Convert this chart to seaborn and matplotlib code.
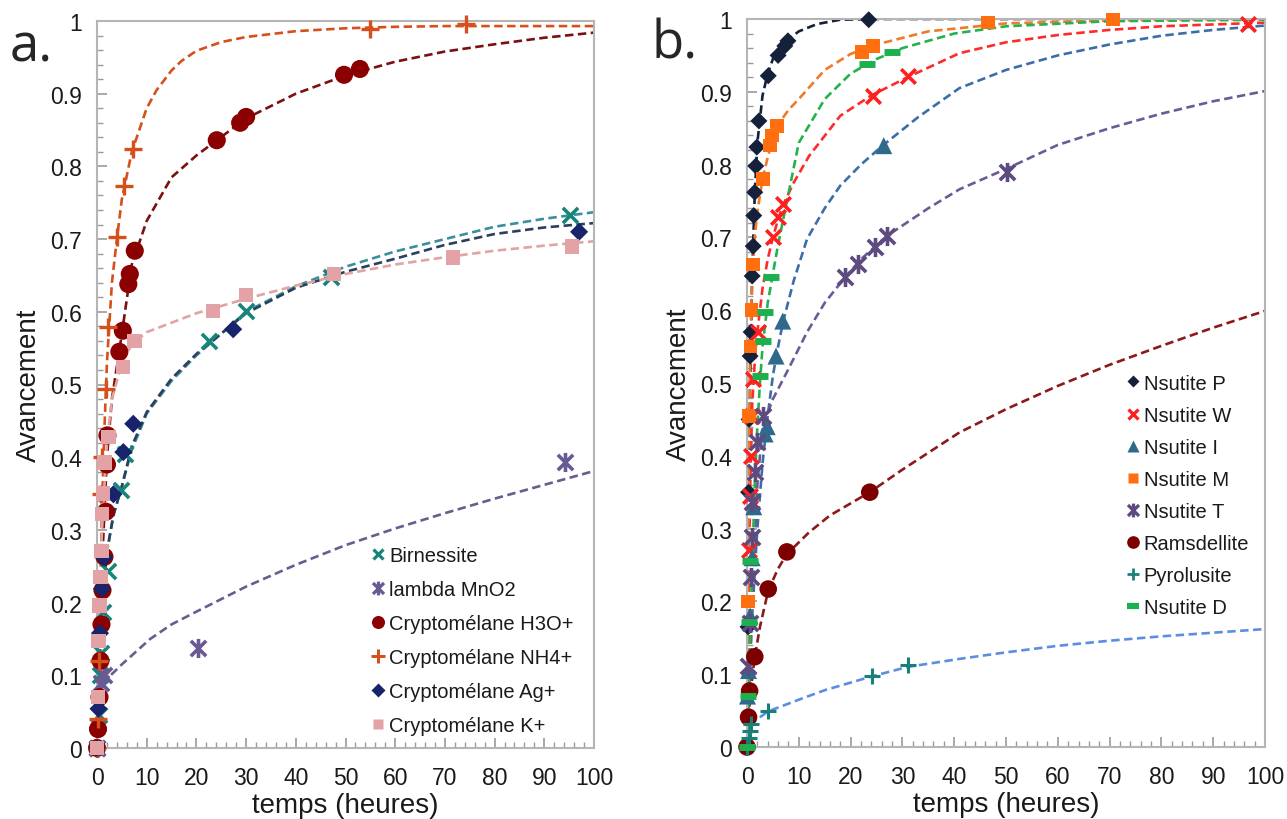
import numpy as np
import pandas as pd
import matplotlib
matplotlib.use("Agg")
import matplotlib.pyplot as plt
import seaborn as sns
from matplotlib.path import Path
from matplotlib.lines import Line2D
from matplotlib.ticker import MultipleLocator, FuncFormatter

sns.set_style("white")
plt.rcParams['font.family'] = ['Liberation Sans', 'DejaVu Sans']

# ---------------- Panel a : measured points ----------------
birn_t = [0, 0.4, 0.6, 0.8, 1.2, 2.3, 4.8, 5.6, 22.5, 30, 47, 95.2]
birn_v = [0, 0.045, 0.10, 0.13, 0.187, 0.243, 0.355, 0.404, 0.56, 0.601, 0.648, 0.733]
lam_t = [0, 0.8, 1.4, 20.4, 94.2]
lam_v = [0, 0.09, 0.10, 0.137, 0.394]
h3o_t = [0, 0.2, 0.5, 0.7, 0.9, 1.1, 1.5, 1.8, 2.0, 2.1, 4.5, 5.2, 6.3, 6.6, 7.6, 24.1, 28.8, 30.0, 49.7, 52.9]
h3o_v = [0, 0.026, 0.07, 0.12, 0.17, 0.217, 0.263, 0.325, 0.39, 0.43, 0.545, 0.574, 0.638, 0.652, 0.684, 0.836, 0.86, 0.868, 0.926, 0.934]
nh4_t = [0, 0.2, 0.5, 0.9, 1.1, 1.8, 2.2, 4.0, 5.4, 7.2, 55.0, 74.2]
nh4_v = [0, 0.04, 0.12, 0.35, 0.40, 0.494, 0.579, 0.703, 0.773, 0.824, 0.989, 0.996]
ag_t = [0, 0.3, 0.6, 1.0, 1.4, 3.3, 5.3, 7.3, 27.4, 97.0]
ag_v = [0, 0.054, 0.158, 0.219, 0.262, 0.349, 0.407, 0.446, 0.576, 0.71]
k_t = [0, 0.2, 0.3, 0.5, 0.7, 0.9, 1.0, 1.2, 1.5, 2.3, 5.2, 7.5, 23.3, 30, 47.7, 71.6, 95.6]
k_v = [0, 0.07, 0.147, 0.196, 0.235, 0.271, 0.322, 0.35, 0.393, 0.428, 0.524, 0.56, 0.601, 0.623, 0.652, 0.675, 0.69]

# ---------------- Panel a : fitted curves ----------------
birn_ft = [0, 0.5, 1, 2, 3.3, 5, 7, 10, 15, 20, 30, 40, 50, 60, 70, 80, 90, 100]
birn_fv = [0, 0.12, 0.19, 0.27, 0.32, 0.36, 0.41, 0.46, 0.505, 0.54, 0.60, 0.635, 0.662, 0.683, 0.70, 0.717, 0.728, 0.737]
lam_ft = [1, 2.6, 5, 10.7, 15, 20.7, 30, 40, 50, 60, 70, 80, 90, 100]
lam_fv = [0.088, 0.099, 0.115, 0.15, 0.17, 0.19, 0.222, 0.252, 0.279, 0.302, 0.323, 0.343, 0.362, 0.381]
h3o_ft = [0, 0.5, 1, 2, 3, 5, 7, 10, 15, 20, 30, 40, 50, 60, 70, 80, 90, 100]
h3o_fv = [0, 0.12, 0.25, 0.40, 0.48, 0.57, 0.665, 0.725, 0.785, 0.815, 0.866, 0.90, 0.925, 0.944, 0.958, 0.968, 0.977, 0.984]
nh4_ft = [0, 0.5, 1, 1.5, 2, 3, 4, 5, 7, 10, 12, 15, 17, 20, 25, 30, 40, 50, 60, 70, 100]
nh4_fv = [0, 0.15, 0.33, 0.44, 0.53, 0.64, 0.70, 0.755, 0.82, 0.88, 0.905, 0.932, 0.945, 0.959, 0.971, 0.978, 0.986, 0.99, 0.992, 0.993, 0.993]
ag_ft = [0, 0.5, 1, 2, 3.3, 5, 7, 10, 15, 20, 30, 40, 50, 60, 70, 80, 90, 100]
ag_fv = [0, 0.12, 0.19, 0.27, 0.32, 0.36, 0.415, 0.462, 0.508, 0.542, 0.598, 0.633, 0.655, 0.673, 0.692, 0.707, 0.716, 0.722]
k_ft = [0, 0.5, 1, 2, 3, 4.3, 5, 7, 10, 15, 20, 30, 40, 50, 60, 70, 80, 90, 100]
k_fv = [0, 0.2, 0.3, 0.42, 0.48, 0.512, 0.53, 0.555, 0.572, 0.585, 0.598, 0.618, 0.636, 0.652, 0.665, 0.675, 0.684, 0.691, 0.697]

# ---------------- Panel b : measured points ----------------
p_t = [0, 0.2, 0.3, 0.4, 0.6, 0.8, 1.0, 1.2, 1.3, 1.5, 1.7, 1.9, 2.3, 4.1, 6.0, 7.3, 7.9, 23.5]
p_v = [0, 0.165, 0.35, 0.45, 0.537, 0.57, 0.647, 0.688, 0.73, 0.762, 0.798, 0.824, 0.86, 0.922, 0.95, 0.963, 0.97, 0.999]
w_t = [0.3, 0.5, 0.7, 0.9, 1.2, 2.1, 5.0, 6.0, 6.9, 24.3, 31.0, 96.7]
w_v = [0.27, 0.345, 0.40, 0.455, 0.505, 0.57, 0.70, 0.728, 0.746, 0.894, 0.922, 0.993]
i_t = [0.1, 0.3, 0.6, 1.0, 1.3, 3.5, 3.9, 5.6, 6.9, 26.4]
i_v = [0.07, 0.105, 0.18, 0.26, 0.33, 0.43, 0.44, 0.537, 0.585, 0.826]
m_t = [0.2, 0.4, 0.7, 0.9, 1.2, 3.1, 4.4, 4.8, 5.8, 22.2, 24.3, 46.5, 70.7]
m_v = [0.20, 0.455, 0.55, 0.60, 0.663, 0.78, 0.826, 0.84, 0.853, 0.955, 0.963, 0.995, 0.999]
t_t = [0.2, 0.5, 0.7, 0.9, 1.0, 1.5, 2.0, 3.1, 18.9, 21.4, 24.7, 27.0, 50.2]
t_v = [0.111, 0.17, 0.233, 0.288, 0.336, 0.378, 0.419, 0.455, 0.645, 0.663, 0.687, 0.702, 0.79]
r_t = [0, 0.3, 0.5, 1.5, 4.1, 7.7, 23.7]
r_v = [0, 0.041, 0.077, 0.124, 0.217, 0.268, 0.35]
py_t = [0, 0.3, 0.5, 0.8, 4.1, 24.1, 31.0]
py_v = [0, 0.012, 0.022, 0.032, 0.049, 0.097, 0.112]
d_t = [0, 0.2, 0.4, 0.6, 2.5, 3.1, 3.5, 4.6, 23.2, 28.0]
d_v = [0, 0.07, 0.172, 0.255, 0.51, 0.558, 0.597, 0.645, 0.938, 0.955]

# ---------------- Panel b : fitted curves ----------------
p_ft = [0, 0.3, 0.6, 1, 1.5, 2, 3, 4, 5, 6, 8, 10, 13.5, 18, 25, 40, 100]
p_fv = [0, 0.3, 0.5, 0.65, 0.76, 0.83, 0.895, 0.925, 0.945, 0.955, 0.972, 0.983, 0.993, 0.999, 1.0, 1.0, 1.0]
w_ft = [0, 0.3, 0.6, 1, 1.5, 2, 3, 4, 5, 6, 7, 9, 12, 18, 24, 31, 41, 50, 60, 70, 80, 100]
w_fv = [0, 0.2, 0.35, 0.47, 0.53, 0.57, 0.63, 0.67, 0.70, 0.725, 0.745, 0.775, 0.812, 0.867, 0.895, 0.92, 0.953, 0.968, 0.978, 0.985, 0.99, 0.995]
i_ft = [0, 0.5, 1, 2, 3, 4, 5, 6, 7, 9, 11.6, 15, 18, 22, 26, 33, 41, 50, 60, 70, 80, 90, 100]
i_fv = [0, 0.1, 0.18, 0.3, 0.39, 0.455, 0.51, 0.55, 0.585, 0.64, 0.698, 0.74, 0.771, 0.80, 0.825, 0.865, 0.905, 0.93, 0.95, 0.965, 0.977, 0.985, 0.991]
m_ft = [0, 0.3, 0.6, 1, 1.5, 2, 3, 4, 5, 6, 8, 10, 15, 20, 25, 35, 50, 70, 100]
m_fv = [0, 0.35, 0.55, 0.64, 0.70, 0.735, 0.78, 0.81, 0.835, 0.855, 0.875, 0.89, 0.93, 0.952, 0.965, 0.983, 0.994, 0.998, 1.0]
t_ft = [0, 0.5, 1, 2, 3, 5, 7.7, 11.6, 15, 18.9, 22, 27, 35, 41, 50, 60, 70, 80, 90, 100]
t_fv = [0, 0.1, 0.2, 0.36, 0.44, 0.478, 0.515, 0.57, 0.61, 0.645, 0.67, 0.702, 0.74, 0.766, 0.794, 0.827, 0.85, 0.87, 0.887, 0.901]
r_ft = [0, 0.5, 1, 1.5, 2.5, 4.1, 6, 7.7, 12, 16, 23.7, 30, 41, 50, 60, 70, 80, 90, 100]
r_fv = [0.02, 0.06, 0.095, 0.124, 0.165, 0.215, 0.245, 0.265, 0.295, 0.318, 0.35, 0.381, 0.432, 0.464, 0.496, 0.525, 0.551, 0.576, 0.599]
py_ft = [0.5, 1.9, 4.1, 10, 15, 24.1, 31, 41, 50, 60, 70, 80, 90, 100]
py_fv = [0.03, 0.038, 0.049, 0.065, 0.078, 0.097, 0.11, 0.121, 0.13, 0.139, 0.146, 0.152, 0.157, 0.162]
d_ft = [0, 0.5, 1, 1.5, 2, 2.5, 3, 4, 5, 6, 8, 10, 15, 20, 25, 30, 40, 50, 70, 100]
d_fv = [0, 0.12, 0.25, 0.36, 0.44, 0.5, 0.55, 0.61, 0.65, 0.69, 0.76, 0.83, 0.89, 0.925, 0.945, 0.96, 0.98, 0.99, 0.997, 0.999]

labels_a = ["Birnessite", "lambda MnO2", "Cryptomélane H3O+", "Cryptomélane NH4+",
            "Cryptomélane Ag+", "Cryptomélane K+"]
labels_b = ["Nsutite P", "Nsutite W", "Nsutite I", "Nsutite M", "Nsutite T",
            "Ramsdellite", "Pyrolusite", "Nsutite D"]

# asterisk marker (x + vertical bar)
STAR = Path([(-1, -1), (1, 1), (-1, 1), (1, -1), (0, -1.25), (0, 1.25)],
            [Path.MOVETO, Path.LINETO, Path.MOVETO, Path.LINETO, Path.MOVETO, Path.LINETO])

DASH = (0, (3.2, 1.7))

# series: (pts_t, pts_v, fit_t, fit_v, marker, marker colour, line colour, size, lw)
series_a = [
    (birn_t, birn_v, birn_ft, birn_fv, 'x', '#18857a', '#3a8f9c', 120, 2.6),
    (lam_t, lam_v, lam_ft, lam_fv, STAR, '#6a5a94', '#6b5b8f', 190, 2.6),
    (h3o_t, h3o_v, h3o_ft, h3o_fv, 'o', '#8b0000', '#7a1010', 170, 0),
    (nh4_t, nh4_v, nh4_ft, nh4_fv, '+', '#d6501c', '#d6501c', 170, 2.4),
    (ag_t, ag_v, ag_ft, ag_fv, 'D', '#17236b', '#2b3f5f', 85, 0),
    (k_t, k_v, k_ft, k_fv, 's', '#e3a3a6', '#e2a3a3', 110, 0),
]
series_b = [
    (p_t, p_v, p_ft, p_fv, 'D', '#15213b', '#15213b', 75, 0),
    (w_t, w_v, w_ft, w_fv, 'x', '#ff1f1f', '#ff2a2a', 110, 2.6),
    (i_t, i_v, i_ft, i_fv, '^', '#2f6a8c', '#3b6ea8', 150, 0),
    (m_t, m_v, m_ft, m_fv, 's', '#ff6f0f', '#ee7a2a', 95, 0),
    (t_t, t_v, t_ft, t_fv, STAR, '#5d4a7e', '#6c5a96', 190, 2.6),
    (r_t, r_v, r_ft, r_fv, 'o', '#7c0000', '#8b1a1a', 160, 0),
    (py_t, py_v, py_ft, py_fv, '+', '#178078', '#5a8ee0', 130, 2.2),
    (d_t, d_v, d_ft, d_fv, '_', '#1db04e', '#23b24c', 140, 5.0),
]

fig = plt.figure(figsize=(12.87, 8.2), dpi=100)
ax_a = fig.add_axes([97 / 1287, 71 / 820, 497 / 1287, 727 / 820])
ax_b = fig.add_axes([747 / 1287, 72 / 820, 518 / 1287, 728 / 820])


def draw(ax, series):
    for pt, pv, ft, fv, mk, mc, lc, s, lw in series:
        sns.lineplot(x=ft, y=fv, ax=ax, color=lc, linewidth=1.9, linestyle=DASH,
                     sort=False, estimator=None, zorder=2)
    for pt, pv, ft, fv, mk, mc, lc, s, lw in series:
        if lw > 0:
            sns.scatterplot(x=pt, y=pv, ax=ax, marker=mk, s=s, color=mc, edgecolor=mc,
                            linewidth=lw, zorder=3, clip_on=False)
        else:
            sns.scatterplot(x=pt, y=pv, ax=ax, marker=mk, s=s, color=mc, edgecolor='none',
                            linewidth=0, zorder=3, clip_on=False)


def style(ax):
    ax.set_xlim(0, 100)
    ax.set_ylim(0, 1)
    ax.xaxis.set_major_locator(MultipleLocator(10))
    ax.xaxis.set_minor_locator(MultipleLocator(2))
    ax.yaxis.set_major_locator(MultipleLocator(0.1))
    ax.yaxis.set_minor_locator(MultipleLocator(0.02))
    ax.yaxis.set_major_formatter(FuncFormatter(lambda v, p: f"{v:g}"))
    ax.tick_params(which='both', direction='in', color='#9a9a9a', bottom=True, left=True,
                   top=False, right=False, labelsize=16.5, labelcolor='#1a1a1a')
    ax.tick_params(which='major', length=7, width=1.2)
    ax.tick_params(which='minor', length=4, width=1.0)
    ax.tick_params(axis='x', pad=13)
    ax.tick_params(axis='y', pad=11)
    for sp in ax.spines.values():
        sp.set_color('#b5b5b5')
        sp.set_linewidth(1.5)
    ax.set_xlabel("temps (heures)", fontsize=20, color='#1a1a1a', labelpad=2)
    ax.set_ylabel("Avancement", fontsize=20, color='#1a1a1a', labelpad=6)


def legend(ax, series, labels, anchor, spacing):
    handles = []
    for (pt, pv, ft, fv, mk, mc, lc, s, lw), lab in zip(series, labels):
        ms = np.sqrt(s) * 0.72
        if lw > 0:
            h = Line2D([], [], linestyle='none', marker=mk, markersize=ms, color=mc,
                       markeredgecolor=mc, markeredgewidth=lw * 0.9)
        else:
            h = Line2D([], [], linestyle='none', marker=mk, markersize=ms, color=mc,
                       markeredgecolor='none')
        handles.append(h)
    ax.legend(handles, labels, loc='upper left', bbox_to_anchor=anchor, frameon=False,
              fontsize=14.5, handlelength=0.9, handletextpad=0.1, borderpad=0,
              borderaxespad=0, labelspacing=spacing, labelcolor='#1a1a1a')


draw(ax_a, series_a)
draw(ax_b, series_b)
style(ax_a)
style(ax_b)
legend(ax_a, series_a, labels_a, (0.548, 0.278), 0.75)
legend(ax_b, series_b, labels_b, (0.727, 0.513), 0.65)

fig.text(10 / 1287, 1 - 48 / 820, "a.", fontsize=38, family=['Open Sans', 'DejaVu Sans'],
         va='center', ha='left')
fig.text(652 / 1287, 1 - 45 / 820, "b.", fontsize=38, family=['Open Sans', 'DejaVu Sans'],
         va='center', ha='left')

fig.savefig("out.png", dpi=100)
